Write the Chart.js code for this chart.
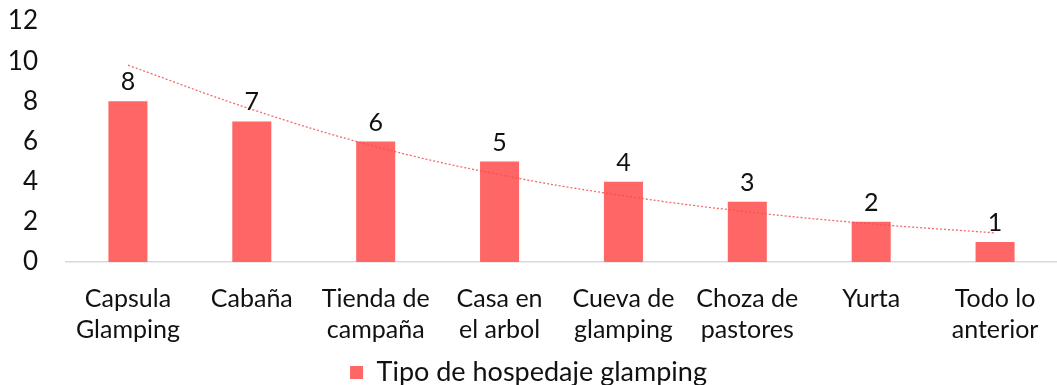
<!DOCTYPE html>
<html>
<head>
<meta charset="utf-8">
<script src="https://cdn.jsdelivr.net/npm/chart.js@4/dist/chart.umd.min.js"></script>
<style>
	html, body { margin: 0; padding: 0; background: #fff; }
	#chartBox { width: 1057px; height: 385px; }
</style>
</head>
<body>
<div id="chartBox"><canvas id="glampingChart"></canvas></div>
<script>
var categories = [
	['Capsula', 'Glamping'],
	'Cabaña',
	['Tienda de', 'campaña'],
	['Casa en', 'el arbol'],
	['Cueva de', 'glamping'],
	['Choza de', 'pastores'],
	'Yurta',
	['Todo lo', 'anterior']
];
var hospedajeValues = [8, 7, 6, 5, 4, 3, 2, 1];
var trendValues = [9.8, 7.6, 5.75, 4.35, 3.3, 2.5, 1.9, 1.45];
var yTicks = [0, 2, 4, 6, 8, 10, 12];

var glamping = {};

glamping.font = "'Lato', 'Noto Sans', sans-serif";
glamping.barColor = '#ff6666';

// value labels over each bar
glamping.valueLabels = {
	id: 'valueLabels',
	afterDatasetsDraw: function(chart){
		var ctx = chart.ctx;
		var meta = chart.getDatasetMeta(0);
		ctx.save();
		ctx.font = '25px ' + glamping.font;
		ctx.fillStyle = '#111';
		ctx.textAlign = 'center';
		ctx.textBaseline = 'alphabetic';
		meta.data.forEach(function(bar, i){
			ctx.fillText(hospedajeValues[i], bar.x, bar.y - 11);
		});
		ctx.restore();
	}
};

glamping.init = function(){
	var ctx = document.getElementById('glampingChart');

	glamping.chart = new Chart(ctx, {
		type: 'bar',
		data: {
			labels: categories,
			datasets: [
				{
					label: 'Tipo de hospedaje glamping',
					data: hospedajeValues,
					backgroundColor: glamping.barColor,
					categoryPercentage: 1.0,
					barPercentage: 0.315,
					order: 2
				},
				{
					type: 'line',
					label: 'trend',
					data: trendValues,
					borderColor: 'rgba(240,80,80,0.85)',
					borderWidth: 1.3,
					borderDash: [2, 2],
					pointRadius: 0,
					tension: 0.4,
					fill: false,
					order: 1
				}
			]
		},
		options: {
			responsive: true,
			maintainAspectRatio: false,
			animation: false,
			layout: {
				padding: { top: 21, right: 0, left: 0, bottom: -11 }
			},
			plugins: {
				tooltip: { enabled: false },
				legend: {
					position: 'bottom',
					labels: {
						filter: function(item){ return item.datasetIndex === 0; },
						boxWidth: 13,
						boxHeight: 13,
						padding: 4,
						color: '#111',
						font: { family: glamping.font, size: 27 }
					}
				}
			},
			scales: {
				x: {
					afterFit: function(scale){ scale.height = 93; },
					grid: { display: false },
					border: { color: '#d9d9d9', width: 1.5 },
					ticks: {
						color: '#111',
						maxRotation: 0,
						autoSkip: false,
						padding: 13,
						font: { family: glamping.font, size: 25, lineHeight: 1.25 }
					}
				},
				y: {
					min: 0,
					max: 12,
					afterFit: function(scale){
						// tick padding only spaces labels from the axis, not the top edge
						scale.width = 66;
						scale.paddingTop = 0;
						scale.paddingBottom = 0;
					},
					afterBuildTicks: function(scale){
						scale.ticks = yTicks.map(function(v){ return { value: v }; });
					},
					grid: { display: false },
					border: { display: false },
					ticks: {
						color: '#111',
						padding: 20,
						font: { family: glamping.font, size: 26 }
					}
				}
			}
		},
		plugins: [glamping.valueLabels]
	});
};

glamping.init();
</script>
</body>
</html>
